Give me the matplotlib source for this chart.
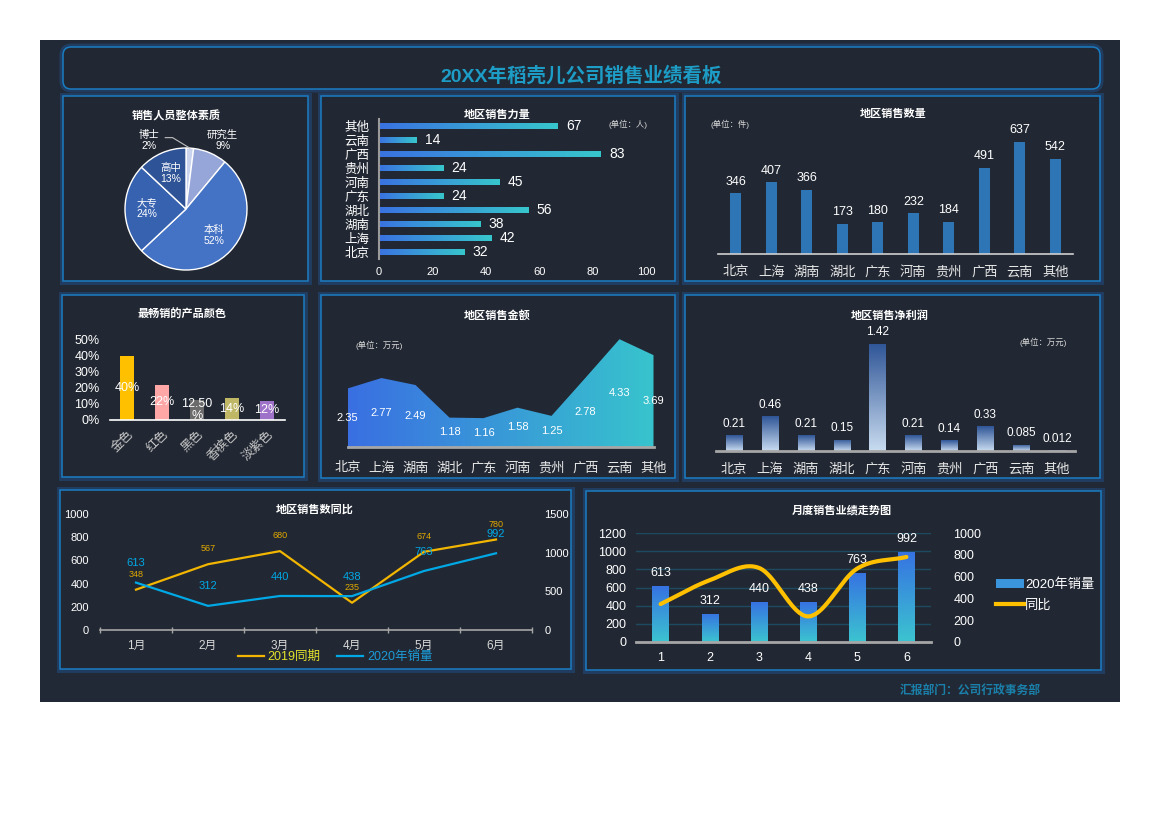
import numpy as np
import matplotlib
matplotlib.use("Agg")
import matplotlib.pyplot as plt
from matplotlib.colors import LinearSegmentedColormap
from matplotlib.patches import Rectangle, FancyBboxPatch, Patch
from matplotlib.lines import Line2D

plt.rcParams['font.family'] = ['Liberation Sans', 'Noto Sans CJK SC', 'DejaVu Sans']

# ---------------- data ----------------
main_title = "20XX年稻壳儿公司销售业绩看板"
footer = "汇报部门：公司行政事务部"

edu_labels = ["博士", "研究生", "本科", "大专", "高中"]
edu_values = [2, 9, 52, 24, 13]
edu_colors = ["#c9d3ee", "#97a6d8", "#4472c4", "#3762b0", "#2e5396"]

regions = ["北京", "上海", "湖南", "湖北", "广东", "河南", "贵州", "广西", "云南", "其他"]
staff = [32, 42, 38, 56, 24, 45, 24, 83, 14, 67]
qty = [346, 407, 366, 173, 180, 232, 184, 491, 637, 542]
amount = [2.35, 2.77, 2.49, 1.18, 1.16, 1.58, 1.25, 2.78, 4.33, 3.69]
profit = [0.21, 0.46, 0.21, 0.15, 1.42, 0.21, 0.14, 0.33, 0.085, 0.012]

color_names = ["金色", "红色", "黑色", "香槟色", "淡紫色"]
color_share = [40, 22, 12.5, 14, 12]
color_bar_colors = ["#ffc000", "#ffa6a6", "#6b6b6b", "#bfb766", "#9e72c8"]

months = ["1月", "2月", "3月", "4月", "5月", "6月"]
month_nums = ["1", "2", "3", "4", "5", "6"]
sales_2019 = [348, 567, 680, 235, 674, 780]
sales_2020 = [613, 312, 440, 438, 763, 992]

# ---------------- layout helpers ----------------
W, H = 1170, 827
fig = plt.figure(figsize=(W / 100, H / 100), dpi=100, facecolor="white")

bg = fig.add_axes([0, 0, 1, 1])
bg.set_xlim(0, W)
bg.set_ylim(H, 0)
bg.axis("off")

DARK = "#222936"
bg.add_patch(Rectangle((40, 40), 1080, 662, facecolor=DARK, edgecolor="none"))


def panel(x0, y0, x1, y1, rounded=False):
    if rounded:
        bs = "round,pad=0,rounding_size=8"
    else:
        bs = "square,pad=0"
    bg.add_patch(FancyBboxPatch((x0, y0), x1 - x0, y1 - y0, boxstyle=bs,
                                facecolor="#232a36", edgecolor="#1f4f86",
                                linewidth=5, alpha=0.55))
    bg.add_patch(FancyBboxPatch((x0, y0), x1 - x0, y1 - y0, boxstyle=bs,
                                facecolor="#222833", edgecolor="#1b7cc2",
                                linewidth=1.1))


def px_axes(x0, y0, x1, y1):
    ax = fig.add_axes([x0 / W, 1 - y1 / H, (x1 - x0) / W, (y1 - y0) / H])
    ax.set_facecolor("none")
    for s in ax.spines.values():
        s.set_visible(False)
    return ax


def ptitle(x, y, s):
    bg.text(x, y, s, ha="center", va="center", color="white", fontsize=8, fontweight="bold")


def unit(x, y, s):
    bg.text(x, y, s, ha="center", va="center", color="#d8d8d8", fontsize=6)


def grad_rect(ax, rect, c0, c1, vertical=True):
    x, y = rect.get_xy()
    w, h = rect.get_width(), rect.get_height()
    cmap = LinearSegmentedColormap.from_list("g", [c0, c1])
    if vertical:
        arr = np.linspace(0, 1, 256).reshape(-1, 1)
    else:
        arr = np.linspace(0, 1, 256).reshape(1, -1)
    im = ax.imshow(arr, cmap=cmap, extent=[x, x + w, y, y + h], origin="lower",
                   aspect="auto", interpolation="bilinear", zorder=2)
    im.set_clip_path(rect)
    rect.set_facecolor("none")
    rect.set_edgecolor("none")


# panels
panel(63, 47, 1100, 89, rounded=True)
panel(63, 96, 308, 281)
panel(321, 96, 675, 281)
panel(685, 96, 1100, 281)
panel(62, 295, 304, 477)
panel(321, 295, 675, 478)
panel(685, 295, 1100, 478)
panel(60, 490, 571, 669)
panel(586, 491, 1101, 670)

bg.text(581, 76, main_title, ha="center", va="center", color="#1d9cc6",
        fontsize=14, fontweight="bold")
bg.text(970, 691, footer, ha="center", va="center", color="#1a80aa",
        fontsize=8.5, fontweight="bold")

# ---------------- panel 1: pie ----------------
ptitle(176, 116, "销售人员整体素质")
ax1 = px_axes(186 - 122, 209 - 122, 186 + 122, 209 + 122)
wedges, _ = ax1.pie(edu_values, colors=edu_colors, startangle=90, counterclock=False,
                    radius=1, wedgeprops=dict(edgecolor="white", linewidth=1))
ax1.set_xlim(-2, 2)
ax1.set_ylim(-2, 2)
ax1.set_aspect("equal")
total = sum(edu_values)
cum = 0
for lab, v in zip(edu_labels, edu_values):
    mid = cum + v / 2
    cum += v
    ang = np.deg2rad(90 - 360 * mid / total)
    txt = f"{lab}\n{v}%"
    if lab == "博士":
        ex, ey = np.cos(ang), np.sin(ang)
        ax1.plot([ex, -0.22, -0.34], [ey, 1.17, 1.17], color="#bfbfbf", lw=0.8)
        ax1.text(-0.6, 1.12, txt, ha="center", va="center", color="white",
                 fontsize=7.5, linespacing=1.1)
    elif lab == "研究生":
        ax1.text(1.28 * np.cos(np.deg2rad(62)), 1.28 * np.sin(np.deg2rad(62)), txt,
                 ha="center", va="center", color="white", fontsize=7.5, linespacing=1.1)
    else:
        ax1.text(0.64 * np.cos(ang), 0.64 * np.sin(ang), txt, ha="center", va="center",
                 color="white", fontsize=7.5, linespacing=1.1)

# ---------------- panel 2: horizontal bars ----------------
ptitle(497, 115, "地区销售力量")
unit(628, 124, "(单位：人)")
ax2 = px_axes(379, 119, 646, 259)
yy = np.arange(len(regions))
bars2 = ax2.barh(yy, staff, height=0.5)
for b in bars2:
    grad_rect(ax2, b, "#3a72e2", "#37c6cc", vertical=False)
ax2.set_xlim(0, 100)
ax2.set_ylim(-0.5, 9.5)
ax2.set_xticks(range(0, 101, 20))
ax2.set_yticks(yy)
ax2.set_yticklabels(regions)
ax2.tick_params(axis="x", length=0, labelcolor="white", labelsize=8, pad=6)
ax2.tick_params(axis="y", length=0, labelcolor="white", labelsize=9, pad=7)
ax2.spines["left"].set_visible(True)
ax2.spines["left"].set_color("#9a9a9a")
ax2.spines["left"].set_linewidth(1.5)
for v, yv in zip(staff, yy):
    ax2.annotate(str(v), (v, yv), xytext=(6, 0), textcoords="offset points",
                 ha="left", va="center", color="white", fontsize=10)

# ---------------- panel 3: vertical bars ----------------
ptitle(893, 114, "地区销售数量")
unit(730, 124, "(单位：件)")
ax3 = px_axes(718, 120, 1073, 254)
xx = np.arange(len(regions))
ax3.bar(xx, qty, width=0.32, color="#2e75b6")
ax3.set_xlim(-0.5, 9.5)
ax3.set_ylim(0, 761)
ax3.set_xticks(xx)
ax3.set_xticklabels(regions)
ax3.set_yticks([])
ax3.tick_params(axis="x", length=0, labelcolor="#e6e6e6", labelsize=9.5, pad=9)
ax3.spines["bottom"].set_visible(True)
ax3.spines["bottom"].set_color("#d0d0d0")
ax3.spines["bottom"].set_linewidth(1.2)
for xv, v in zip(xx, qty):
    ax3.annotate(str(v), (xv, v), xytext=(0, 4), textcoords="offset points",
                 ha="center", va="bottom", color="white", fontsize=9)

# ---------------- panel 4: colours ----------------
ptitle(182, 314, "最畅销的产品颜色")
ax4 = px_axes(109.5, 340, 284.5, 420)
xc = np.arange(len(color_names))
ax4.bar(xc, [v / 100 for v in color_share], width=0.4, color=color_bar_colors)
ax4.set_xlim(-0.5, 4.5)
ax4.set_ylim(0, 0.5)
ax4.set_yticks(np.arange(0, 0.51, 0.1))
ax4.set_yticklabels([f"{int(round(t * 100))}%" for t in np.arange(0, 0.51, 0.1)])
ax4.set_xticks(xc)
ax4.set_xticklabels(color_names, rotation=45, ha="right", rotation_mode="anchor")
ax4.tick_params(axis="y", length=0, labelcolor="white", labelsize=9, pad=7)
ax4.tick_params(axis="x", length=0, labelcolor="#c8c8c8", labelsize=9, pad=6)
ax4.spines["bottom"].set_visible(True)
ax4.spines["bottom"].set_color("white")
ax4.spines["bottom"].set_linewidth(1.2)
for xv, v in zip(xc, color_share):
    lab = f"{v:.0f}%" if float(v).is_integer() else f"{v:.2f}\n%"
    ax4.text(xv, v / 200, lab, ha="center", va="center", color="white", fontsize=9,
             linespacing=0.95, zorder=5)

# ---------------- panel 5: area ----------------
ptitle(497, 315, "地区销售金额")
unit(379, 345, "(单位：万元)")
ax5 = px_axes(347.5, 330, 653.5, 447)
poly = ax5.fill_between(xx, amount, 0, facecolor="none", edgecolor="none")
cm5 = LinearSegmentedColormap.from_list("a", ["#3a6fe2", "#37c4cd"])
im5 = ax5.imshow(np.linspace(0, 1, 256).reshape(1, -1), cmap=cm5, extent=[0, 9, 0, 4.7],
                 origin="lower", aspect="auto", interpolation="bilinear", zorder=1)
im5.set_clip_path(poly.get_paths()[0], transform=ax5.transData)
ax5.set_xlim(0, 9)
ax5.set_ylim(0, 4.7)
ax5.set_xticks(xx)
ax5.set_xticklabels(regions)
ax5.set_yticks([])
ax5.tick_params(axis="x", length=0, labelcolor="#e6e6e6", labelsize=9.5, pad=11)
ax5.spines["bottom"].set_visible(True)
ax5.spines["bottom"].set_color("#a6a6a6")
ax5.spines["bottom"].set_linewidth(2)
for xv, v in zip(xx, amount):
    ax5.text(xv, v / 2, f"{v:.2f}", ha="center", va="center", color="white",
             fontsize=8, zorder=5, clip_on=False)

# ---------------- panel 6: profit ----------------
ptitle(890, 316, "地区销售净利润")
unit(1043, 342, "(单位：万元)")
ax6 = px_axes(716, 330, 1075, 451)
bars6 = ax6.bar(xx, profit, width=0.45)
for b in bars6:
    grad_rect(ax6, b, "#c9dcf0", "#2f5597", vertical=True)
ax6.set_xlim(-0.5, 9.5)
ax6.set_ylim(0, 1.605)
ax6.set_xticks(xx)
ax6.set_xticklabels(regions)
ax6.set_yticks([])
ax6.tick_params(axis="x", length=0, labelcolor="#e6e6e6", labelsize=9.5, pad=9)
ax6.spines["bottom"].set_visible(True)
ax6.spines["bottom"].set_color("#a6a6a6")
ax6.spines["bottom"].set_linewidth(2)
for xv, v in zip(xx, profit):
    ax6.annotate(f"{v:g}", (xv, v), xytext=(0, 4), textcoords="offset points",
                 ha="center", va="bottom", color="white", fontsize=8.5)

# ---------------- panel 7: dual line ----------------
ptitle(315, 509, "地区销售数同比")
ax7 = px_axes(100, 514, 532, 630)
ax7r = ax7.twinx()
ax7r.set_facecolor("none")
for s in ax7r.spines.values():
    s.set_visible(False)
xm = np.arange(len(months))
ax7.plot(xm, sales_2019, color="#f2b600", lw=1.6, zorder=3)
ax7r.plot(xm, sales_2020, color="#00a8e6", lw=1.6, zorder=3)
ax7.set_xlim(-0.5, 5.5)
ax7.set_ylim(0, 1000)
ax7r.set_ylim(0, 1500)
ax7.set_yticks(range(0, 1001, 200))
ax7r.set_yticks(range(0, 1501, 500))
ax7.set_xticks(xm)
ax7.set_xticklabels(months)
ax7.set_xticks(np.arange(-0.5, 5.6, 1), minor=True)
ax7.tick_params(axis="x", which="major", length=0, labelcolor="#d8d8d8", labelsize=8.5, pad=7)
ax7.tick_params(axis="x", which="minor", length=4, direction="inout", color="#a6a6a6", width=1)
ax7.tick_params(axis="y", length=0, labelcolor="white", labelsize=8, pad=8)
ax7r.tick_params(axis="y", length=0, labelcolor="white", labelsize=8, pad=9)
ax7.spines["bottom"].set_visible(True)
ax7.spines["bottom"].set_color("#a6a6a6")
ax7.spines["bottom"].set_linewidth(1.2)
for xv, v in zip(xm, sales_2019):
    ax7.annotate(str(v), (xv, v), xytext=(0, 11), textcoords="offset points",
                 ha="center", va="center", color="#e0a800", fontsize=6.5)
for xv, v in zip(xm, sales_2020):
    ax7r.annotate(str(v), (xv, v), xytext=(0, 14), textcoords="offset points",
                  ha="center", va="center", color="#00a8e6", fontsize=8)
h7 = [Line2D([], [], color="#f2b600", lw=1.6), Line2D([], [], color="#00a8e6", lw=1.6)]
ax7.legend(h7, ["2019同期", "2020年销量"], loc="center", bbox_to_anchor=(0.544, -0.233),
           ncol=2, frameon=False, fontsize=9, handlelength=2.1, handletextpad=0.3,
           columnspacing=1.3, labelcolor=["#e2e22a", "#1b9ad6"])

# ---------------- panel 8: combo ----------------
ptitle(842, 510, "月度销售业绩走势图")
ax8 = px_axes(636, 533, 931, 642)
ax8r = ax8.twinx()
ax8r.set_facecolor("none")
for s in ax8r.spines.values():
    s.set_visible(False)
xn = np.arange(1, 7)
bars8 = ax8.bar(xn, sales_2020, width=0.33, zorder=2)
for b in bars8:
    grad_rect(ax8, b, "#3cc4d0", "#3672e2", vertical=True)


def catmull(xs, ys, n=40):
    xs = np.asarray(xs, float)
    ys = np.asarray(ys, float)
    px = np.concatenate([[2 * xs[0] - xs[1]], xs, [2 * xs[-1] - xs[-2]]])
    py = np.concatenate([[2 * ys[0] - ys[1]], ys, [2 * ys[-1] - ys[-2]]])
    ox, oy = [], []
    for i in range(1, len(px) - 2):
        t = np.linspace(0, 1, n, endpoint=False)
        t2, t3 = t * t, t * t * t
        for arr, out in ((px, ox), (py, oy)):
            p0, p1, p2, p3 = arr[i - 1], arr[i], arr[i + 1], arr[i + 2]
            out.extend(0.5 * (2 * p1 + (-p0 + p2) * t + (2 * p0 - 5 * p1 + 4 * p2 - p3) * t2
                              + (-p0 + 3 * p1 - 3 * p2 + p3) * t3))
    ox.append(xs[-1])
    oy.append(ys[-1])
    return np.array(ox), np.array(oy)


sx, sy = catmull(xn, sales_2019)
ax8r.plot(sx, sy, color="#ffc000", lw=3, solid_capstyle="round", zorder=3)
ax8.set_xlim(0.5, 6.5)
ax8.set_ylim(0, 1200)
ax8r.set_ylim(0, 1000)
ax8.set_yticks(range(0, 1201, 200))
ax8r.set_yticks(range(0, 1001, 200))
ax8.set_xticks(xn)
ax8.set_xticklabels(month_nums)
ax8.yaxis.grid(True, color="#1d4a5e", lw=1)
ax8.set_axisbelow(True)
ax8.tick_params(axis="x", length=0, labelcolor="white", labelsize=9, pad=7)
ax8.tick_params(axis="y", length=0, labelcolor="white", labelsize=9, pad=7)
ax8r.tick_params(axis="y", length=0, labelcolor="white", labelsize=9, pad=16)
ax8.spines["bottom"].set_visible(True)
ax8.spines["bottom"].set_color("#a6a6a6")
ax8.spines["bottom"].set_linewidth(2)
ax8.spines["bottom"].set_zorder(4)
for xv, v in zip(xn, sales_2020):
    ax8.annotate(str(v), (xv, v), xytext=(0, 5), textcoords="offset points",
                 ha="center", va="bottom", color="white", fontsize=9, zorder=5)
h8 = [Patch(facecolor="#3a95dc", edgecolor="none"), Line2D([], [], color="#ffc000", lw=3)]
ax8r.legend(h8, ["2020年销量", "同比"], loc="center left", bbox_to_anchor=(1.18, 0.43),
            frameon=False, fontsize=9.5, handlelength=2.1, handleheight=0.6,
            handletextpad=0.1, labelspacing=0.6, labelcolor="white")

fig.savefig("out.png", dpi=100, facecolor="white")
